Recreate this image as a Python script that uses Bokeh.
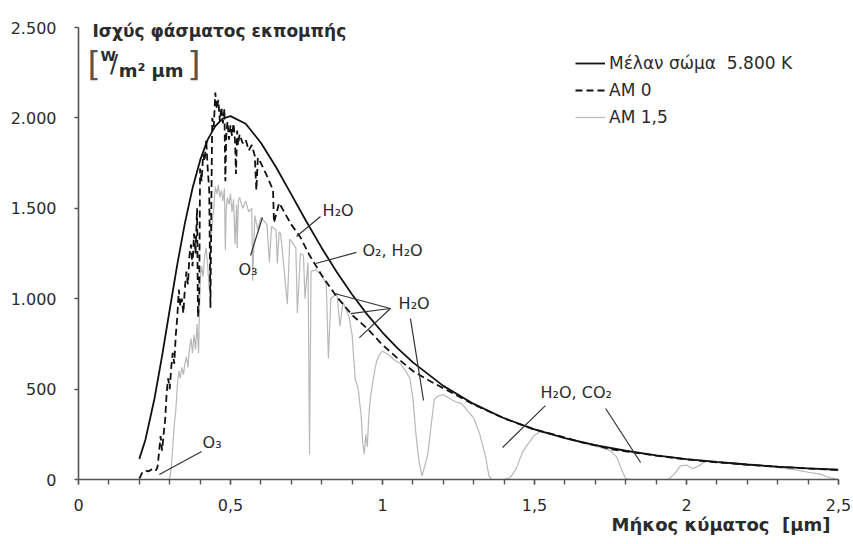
from bokeh.plotting import figure
from bokeh.models import (Range1d, FixedTicker, CustomJSTickFormatter, Label,
                          Legend, LegendItem, ColumnDataSource, Title)
from bokeh.embed import file_html
from bokeh.resources import INLINE

# Black body 5800 K, scaled to the top of the atmosphere (W/m² µm)
bb_wl = [0.20, 0.22, 0.25, 0.275, 0.30, 0.325, 0.35, 0.375, 0.40, 0.425, 0.45,
         0.475, 0.50, 0.55, 0.60, 0.65, 0.70, 0.75, 0.80, 0.85, 0.90, 0.95,
         1.00, 1.05, 1.10, 1.20, 1.30, 1.40, 1.50, 1.60, 1.70, 1.80, 1.90,
         2.00, 2.10, 2.20, 2.30, 2.40, 2.50]
bb_val = [114, 219, 448, 684, 939, 1190, 1418, 1611, 1765, 1880, 1955,
          1997, 2010, 1968, 1863, 1727, 1577, 1426, 1281, 1146, 1023, 912,
          813, 725, 648, 518, 418, 339, 277, 229, 190, 159, 134,
          113, 97, 83, 71, 62, 54]

# Extraterrestrial spectrum (AM 0)
am0_wl = [0.200, 0.210, 0.220, 0.230, 0.240, 0.250, 0.255, 0.260, 0.265, 0.270,
          0.275, 0.280, 0.285, 0.290, 0.295, 0.300, 0.305, 0.310, 0.315, 0.320,
          0.325, 0.330, 0.335, 0.340, 0.345, 0.350, 0.355, 0.360, 0.365, 0.370,
          0.375, 0.380, 0.385, 0.390, 0.393, 0.397, 0.400, 0.405, 0.410, 0.415,
          0.420, 0.425, 0.430, 0.434, 0.438, 0.440, 0.445, 0.450, 0.455, 0.460,
          0.465, 0.470, 0.475, 0.480, 0.483, 0.486, 0.490, 0.495, 0.500, 0.505,
          0.510, 0.515, 0.518, 0.522, 0.525, 0.530, 0.540, 0.550, 0.560, 0.570,
          0.580, 0.585, 0.590, 0.600, 0.620, 0.640, 0.643, 0.660, 0.680, 0.700,
          0.730, 0.760, 0.800, 0.850, 0.900, 0.950, 1.000, 1.050, 1.100, 1.150,
          1.200, 1.300, 1.400, 1.500, 1.550, 1.600, 1.650, 1.700, 1.750, 1.800,
          1.900, 2.000, 2.100, 2.200, 2.300, 2.400, 2.500]
am0_val = [5, 40, 50, 45, 55, 60, 50, 70, 150, 240,
           160, 250, 330, 480, 560, 500, 620, 700, 640, 800,
           900, 1050, 960, 1000, 920, 1060, 1150, 1080, 1240, 1300,
           1180, 1360, 1250, 1500, 900, 1000, 1720, 1650, 1800, 1760,
           1880, 1720, 1600, 950, 1700, 2000, 1950, 2140, 2050, 2100,
           1980, 2060, 1970, 2050, 1650, 1900, 1980, 1880, 1960, 1900,
           1970, 1870, 1690, 1930, 1850, 1910, 1860, 1880, 1820, 1850,
           1790, 1600, 1780, 1750, 1680, 1600, 1420, 1530, 1470, 1410,
           1340, 1240, 1130, 1010, 910, 835, 745, 670, 600, 550,
           505, 415, 338, 276, 255, 232, 208, 189, 168, 156,
           132, 111, 95, 82, 70, 61, 53]

# Terrestrial spectrum at air mass 1.5
am15_wl = [0.295, 0.300, 0.305, 0.310, 0.315, 0.320, 0.325, 0.330, 0.335, 0.340,
           0.345, 0.350, 0.355, 0.360, 0.365, 0.370, 0.375, 0.380, 0.385, 0.390,
           0.395, 0.400, 0.405, 0.410, 0.415, 0.420, 0.425, 0.430, 0.435, 0.440,
           0.445, 0.450, 0.455, 0.460, 0.465, 0.470, 0.475, 0.480, 0.483, 0.486,
           0.490, 0.495, 0.500, 0.505, 0.510, 0.515, 0.520, 0.522, 0.526, 0.530,
           0.540, 0.550, 0.560, 0.570, 0.573, 0.580, 0.590, 0.595, 0.600, 0.610,
           0.620, 0.628, 0.635, 0.650, 0.654, 0.660, 0.665, 0.687, 0.695, 0.700,
           0.715, 0.720, 0.730, 0.740, 0.745, 0.755, 0.760, 0.765, 0.780, 0.800,
           0.815, 0.822, 0.830, 0.850, 0.860, 0.870, 0.890, 0.900, 0.910, 0.920,
           0.930, 0.935, 0.940, 0.945, 0.950, 0.955, 0.960, 0.970, 0.980, 0.990,
           1.000, 1.020, 1.040, 1.060, 1.080, 1.090, 1.100, 1.110, 1.120, 1.130,
           1.140, 1.150, 1.160, 1.170, 1.180, 1.200, 1.220, 1.240, 1.260, 1.280,
           1.300, 1.320, 1.340, 1.350, 1.360, 1.400, 1.420, 1.440, 1.460, 1.480,
           1.500, 1.520, 1.550, 1.600, 1.650, 1.700, 1.750, 1.770, 1.790, 1.800,
           1.820, 1.940, 1.960, 1.980, 2.000, 2.020, 2.040, 2.060, 2.100, 2.150,
           2.200, 2.250, 2.300, 2.350, 2.400, 2.440, 2.470, 2.500]
am15_val = [0, 5, 60, 180, 300, 380, 520, 600, 560, 620,
            580, 640, 680, 620, 720, 780, 700, 800, 720, 860,
            700, 1100, 1180, 1120, 1240, 1280, 1180, 1050, 1300, 1420,
            1500, 1620, 1580, 1630, 1560, 1600, 1540, 1610, 1270, 1500,
            1560, 1520, 1580, 1480, 1550, 1300, 1520, 1280, 1540, 1560,
            1500, 1540, 1480, 1500, 1100, 1460, 1380, 1420, 1450, 1430,
            1410, 1200, 1400, 1380, 1195, 1370, 1360, 970, 1330, 1320,
            1280, 920, 1250, 1240, 1000, 1200, 140, 1150, 1160, 1130,
            1080, 670, 1000, 1030, 850, 980, 900, 800, 560, 500,
            350, 200, 140, 250, 180, 350, 450, 560, 650, 690,
            710, 690, 660, 640, 590, 560, 450, 250, 100, 20,
            80, 150, 300, 440, 460, 470, 450, 430, 420, 380,
            340, 250, 120, 20, 0, 0, 10, 60, 150, 200,
            245, 265, 252, 228, 205, 186, 160, 125, 40, 5,
            0, 0, 30, 75, 80, 60, 75, 100, 93, 87,
            80, 74, 66, 56, 40, 30, 10, 0]

series_names = ["Μέλαν σώμα\u00a0 5.800 K", "AM 0", "AM 1,5"]
x_ticks = [0, 0.5, 1, 1.5, 2, 2.5]
y_ticks = [0, 500, 1000, 1500, 2000, 2500]

# Absorption notes: (text, text x, text y, [leader lines as (x0, y0, x1, y1)])
notes = [
    ("O₃", 0.408, 205, [(0.266, 28, 0.405, 155)]),
    ("O₃", 0.526, 1162, [(0.566, 1239, 0.605, 1449)]),
    ("H₂O", 0.803, 1488, [(0.796, 1455, 0.717, 1344)]),
    ("O₂, H₂O", 0.934, 1267, [(0.914, 1256, 0.780, 1195)]),
    ("H₂O", 1.053, 973, [(1.026, 946, 0.842, 1029),
                         (1.026, 946, 0.895, 918),
                         (1.026, 946, 0.924, 785),
                         (1.092, 890, 1.135, 437)]),
    ("H₂O, CO₂", 1.520, 481, [(1.536, 409, 1.395, 177),
                              (1.734, 393, 1.849, 94)]),
]

FONT = "DejaVu Sans"
INK = "#2b2b2b"

p = figure(width=853, height=544, output_backend="svg", toolbar_location=None,
           x_range=Range1d(0, 2.5), y_range=Range1d(0, 2622),
           min_border_left=78, min_border_right=15, min_border_top=5,
           min_border_bottom=65)
p.outline_line_color = None
p.xgrid.visible = False
p.ygrid.visible = False
p.background_fill_color = "white"
p.border_fill_color = "white"

r15 = p.line(am15_wl, am15_val, line_color="#b8b8b8", line_width=1.2)
r0 = p.line(am0_wl, am0_val, line_color="#111111", line_width=1.8,
            line_dash="7 4")
rbb = p.line(bb_wl, bb_val, line_color="#111111", line_width=1.8)

# axes
for ax in (p.xaxis[0], p.yaxis[0]):
    ax.axis_line_color = "#555555"
    ax.axis_line_width = 1.6
    ax.major_tick_line_color = "#555555"
    ax.minor_tick_line_color = "#555555"
    ax.major_tick_line_width = 1.4
    ax.minor_tick_line_width = 1.4
    ax.major_label_text_font = FONT
    ax.major_label_text_font_size = "16px"
    ax.major_label_text_color = INK

p.xaxis.ticker = FixedTicker(ticks=x_ticks,
                             minor_ticks=[i / 10 for i in range(26)])
p.xaxis.major_tick_in = 0
p.xaxis.major_tick_out = 5
p.xaxis.minor_tick_in = 0
p.xaxis.minor_tick_out = 5
p.xaxis.major_label_standoff = 14
p.xaxis.formatter = CustomJSTickFormatter(
    code="return String(Math.round(tick * 10) / 10).replace('.', ',');")

p.yaxis.ticker = FixedTicker(ticks=y_ticks, minor_ticks=[])
p.yaxis.bounds = (0, 2500)
p.yaxis.major_tick_in = 0
p.yaxis.major_tick_out = 4
p.yaxis.major_label_standoff = 18
p.yaxis.formatter = CustomJSTickFormatter(code="""
const v = Math.round(tick);
return v >= 1000 ? Math.floor(v / 1000) + '.' + String(v % 1000).padStart(3, '0') : String(v);
""")

# absorption notes with leader lines
for text, tx, ty, lines in notes:
    p.add_layout(Label(x=tx, y=ty, text=text, text_font=FONT,
                       text_font_size="16px", text_color=INK,
                       text_baseline="middle", text_align="left"))
    src = ColumnDataSource(dict(x0=[l[0] for l in lines], y0=[l[1] for l in lines],
                                x1=[l[2] for l in lines], y1=[l[3] for l in lines]))
    p.segment("x0", "y0", "x1", "y1", source=src, line_color="#333333",
              line_width=1.2)

# y axis title and unit
p.add_layout(Label(x=0.046, y=2483, text="Ισχύς φάσματος εκπομπής",
                   text_font=FONT, text_font_size="17px", text_font_style="bold",
                   text_color=INK, text_baseline="middle"))
p.add_layout(Label(x=0.030, y=2301, text="[", text_font=FONT,
                   text_font_size="34px", text_color="#555555",
                   text_baseline="middle"))
p.add_layout(Label(x=0.072, y=2340, text="W", text_font=FONT,
                   text_font_size="14px", text_font_style="bold",
                   text_color=INK, text_baseline="middle"))
p.add_layout(Label(x=0.104, y=2296, text="/", text_font=FONT,
                   text_font_size="24px", text_color=INK,
                   text_baseline="middle"))
p.add_layout(Label(x=0.132, y=2262, text="m² µm", text_font=FONT,
                   text_font_size="18px", text_font_style="bold",
                   text_color=INK, text_baseline="middle"))
p.add_layout(Label(x=0.358, y=2301, text="]", text_font=FONT,
                   text_font_size="34px", text_color="#555555",
                   text_baseline="middle"))

# x axis title, right aligned under the axis
p.add_layout(Title(text="Μήκος κύματος\u00a0 [µm]", align="right", offset=8,
                   standoff=-4, text_font=FONT, text_font_size="18px",
                   text_font_style="bold", text_color=INK), "below")

legend = Legend(items=[LegendItem(label=series_names[0], renderers=[rbb]),
                       LegendItem(label=series_names[1], renderers=[r0]),
                       LegendItem(label=series_names[2], renderers=[r15])],
                location=(497, 352), orientation="vertical",
                glyph_width=30, glyph_height=20, label_height=20,
                label_standoff=4, spacing=7, padding=0, margin=0,
                border_line_color=None, background_fill_alpha=0,
                label_text_font=FONT, label_text_font_size="17px",
                label_text_color=INK)
p.add_layout(legend)

open("out.html", "w").write(file_html(p, INLINE))
